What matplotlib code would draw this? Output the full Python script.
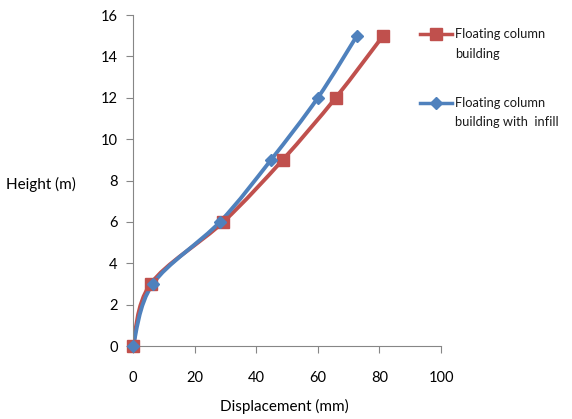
import numpy as np
import matplotlib.pyplot as plt
from matplotlib.path import Path
from matplotlib.patches import PathPatch
from matplotlib.lines import Line2D

height = [0, 3, 6, 9, 12, 15]
disp_floating = [0, 5.7, 29.3, 48.6, 65.8, 81.2]
disp_infill = [0, 6.4, 28.2, 44.8, 60.0, 72.7]
labels = ['Floating column\nbuilding', 'Floating column\nbuilding with  infill']

red = '#C0504D'
blue = '#4F81BD'

plt.rcParams['font.family'] = ['Lato', 'DejaVu Sans']


def smooth_path(xs, ys):
	# excel style smoothed line, cubic bezier through the points
	pts = np.column_stack([xs, ys]).astype(float)
	n = len(pts)
	verts = [pts[0]]
	codes = [Path.MOVETO]
	for i in range(n - 1):
		p0 = pts[max(i - 1, 0)]
		p1 = pts[i]
		p2 = pts[i + 1]
		p3 = pts[min(i + 2, n - 1)]
		verts += [p1 + (p2 - p0) / 6, p2 - (p3 - p1) / 6, p2]
		codes += [Path.CURVE4] * 3
	return Path(verts, codes)


fig = plt.figure(figsize=(5.72, 4.19), dpi=100)
ax = fig.add_axes([0.2325, 0.174, 0.5385, 0.79])

styles = [(disp_floating, red, 's', 8), (disp_infill, blue, 'D', 6)]
for xs, color, marker, ms in styles:
	ax.add_patch(PathPatch(smooth_path(xs, height), facecolor='none', edgecolor=color, lw=2.8, zorder=2))
	ax.plot(xs, height, linestyle='none', marker=marker, markersize=ms, color=color, zorder=3, clip_on=False)

ax.set_xlim(0, 100)
ax.set_ylim(0, 16)
ax.set_xticks(np.arange(0, 101, 20))
ax.set_yticks(np.arange(0, 17, 2))
for s in ['top', 'right']:
	ax.spines[s].set_visible(False)
for s in ['left', 'bottom']:
	ax.spines[s].set_color('#868686')
ax.tick_params(axis='x', direction='out', length=5, pad=13, color='#868686', labelsize=10.5)
ax.tick_params(axis='y', direction='out', length=5, pad=6, color='#868686', labelsize=10.5)

ax.set_xlabel('Displacement (mm)', fontsize=11)
ax.xaxis.set_label_coords(0.49, -0.16)
ax.set_ylabel('Height (m)', fontsize=11, rotation=0)
ax.yaxis.set_label_coords(-0.3, 0.465)

# legend drawn by hand so the key sits on the first line of each label (like excel)
for (xs, color, marker, ms), label, ypx in zip(styles, labels, [34, 103]):
	yf = 1 - ypx / 419
	fig.add_artist(Line2D([420 / 572, 452 / 572], [yf, yf], transform=fig.transFigure,
		color=color, lw=2.5))
	fig.add_artist(Line2D([436 / 572], [yf], transform=fig.transFigure,
		color=color, marker=marker, markersize=ms, linestyle='none'))
	fig.text(455 / 572, 1 - (ypx - 6) / 419, label, fontsize=9.3, va='top', ha='left',
		linespacing=1.75, color='#1a1a1a')

fig.savefig('out.png', dpi=100)
